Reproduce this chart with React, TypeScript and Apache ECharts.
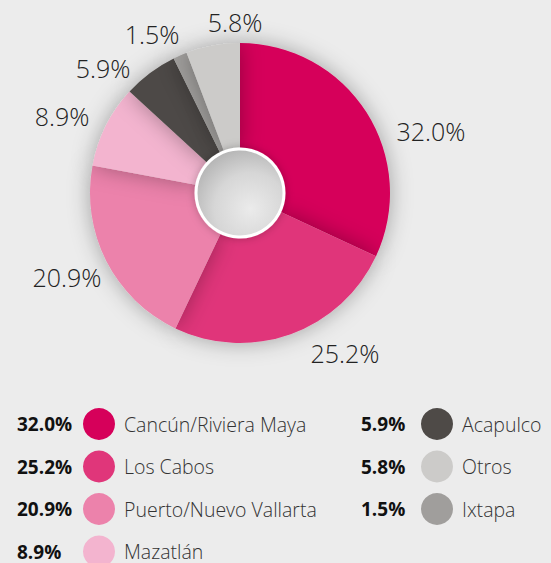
import React, { useEffect, useRef } from "react";
import * as echarts from "echarts";

const categories = [
  "Cancún/Riviera Maya",
  "Los Cabos",
  "Puerto/Nuevo Vallarta",
  "Mazatlán",
  "Acapulco",
  "Ixtapa",
  "Otros",
];
const values = [32.0, 25.2, 20.9, 8.9, 5.9, 1.5, 5.8];
const colors = ["#d6005a", "#e0367a", "#ec82ab", "#f3b4cf", "#4e4a47", "#a09e9c", "#cccbc9"];

// legend columns (order as in the reference)
const legendCol1 = ["Cancún/Riviera Maya", "Los Cabos", "Puerto/Nuevo Vallarta", "Mazatlán"];
const legendCol2 = ["Acapulco", "Otros", "Ixtapa"];

// label centres for the slice percentages
const labelPos: [number, number][] = [
  [431, 131],
  [345, 353],
  [67, 277],
  [62, 116],
  [103, 68],
  [152, 34],
  [235, 22],
];

const fmt = (v: number) => v.toFixed(1) + "%";

export default function App() {
  const ref = useRef<HTMLDivElement>(null);
  useEffect(() => {
    document.body.style.margin = "0";
    const chart = echarts.init(ref.current!, null, { renderer: "svg" });
    const cx = 240;
    const cy = 193;
    const rowY0 = 424;
    const rowGap = 42.5;
    const pctTexts: any[] = [];
    const addPct = (names: string[], x: number) => {
      names.forEach((n, i) => {
        const idx = categories.indexOf(n);
        pctTexts.push({
          type: "text",
          x,
          y: rowY0 + i * rowGap,
          z: 100,
          style: {
            text: fmt(values[idx]),
            fill: "#111111",
            font: "bold 19px 'Open Sans'",
            textAlign: "left",
            textVerticalAlign: "middle",
          },
        });
      });
    };
    addPct(legendCol1, 17);
    addPct(legendCol2, 361);

    const legendBase = {
      orient: "vertical",
      icon: "circle",
      itemWidth: 32,
      itemHeight: 32,
      itemGap: 10.5,
      padding: 0,
      height: 220,
      selectedMode: false,
      textStyle: {
        fontFamily: "Open Sans",
        fontSize: 19.5,
        fontWeight: 300,
        color: "#333333",
        padding: [0, 0, 0, 4],
      },
    };

    chart.setOption({
      animation: false,
      backgroundColor: "#ececec",
      legend: [
        { ...legendBase, data: legendCol1, left: 83, top: 408 },
        { ...legendBase, data: legendCol2, left: 421, top: 408 },
      ],
      graphic: [
        {
          type: "circle",
          shape: { cx, cy, r: 44 },
          z: 100,
          style: {
            fill: new echarts.graphic.RadialGradient(0.62, 0.68, 0.75, [
              { offset: 0, color: "#ebebeb" },
              { offset: 0.55, color: "#d6d6d6" },
              { offset: 1, color: "#b0b0b0" },
            ]),
            stroke: "#ffffff",
            lineWidth: 3,
            shadowBlur: 8,
            shadowColor: "rgba(0,0,0,0.25)",
          },
        },
        ...pctTexts,
      ],
      series: [
        {
          type: "pie",
          center: [cx, cy],
          radius: [45, 150],
          startAngle: 90,
          clockwise: true,
          silent: true,
          itemStyle: {
            shadowBlur: 22,
            shadowColor: "rgba(0,0,0,0.32)",
          },
          label: {
            show: true,
            position: "outside",
            overflow: "none",
            formatter: (p: any) => fmt(p.value),
            fontFamily: "Open Sans",
            fontWeight: 300,
            fontSize: 25,
            color: "#222222",
          },
          labelLine: { show: false },
          labelLayout: (p: any) => ({
            x: labelPos[p.dataIndex][0],
            y: labelPos[p.dataIndex][1],
            align: "center",
            verticalAlign: "middle",
            width: 120,
          }),
          data: categories.map((n, i) => ({
            name: n,
            value: values[i],
            itemStyle: { color: colors[i] },
          })),
        },
      ],
    });
    return () => chart.dispose();
  }, []);
  return (
    <div
      ref={ref}
      style={{ position: "fixed", left: 0, top: 0, width: 551, height: 563 }}
    />
  );
}
